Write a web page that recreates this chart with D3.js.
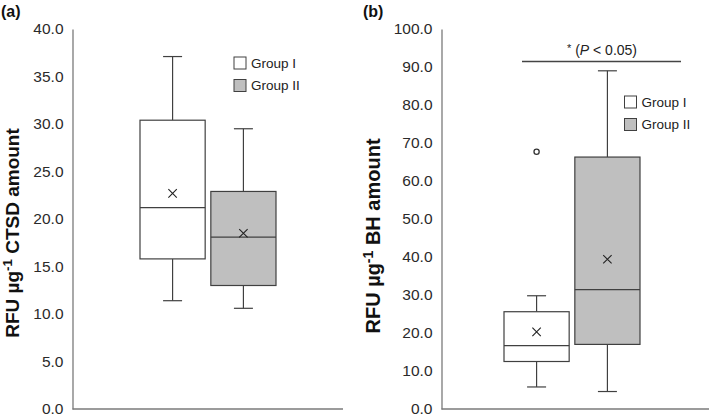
<!DOCTYPE html>
<html><head><meta charset="utf-8">
<script src="https://cdn.jsdelivr.net/npm/d3@7"></script>
<style>body{margin:0;background:#fff}svg{display:block;font-family:"Liberation Sans",Arial,sans-serif}</style>
</head><body><svg id="c" width="709" height="418"></svg>
<script>
const groups = ["Group I", "Group II"];
// panel (a) CTSD: [lowerWhisker, Q1, median, Q3, upperWhisker], mean
const ctsdStats = [[11.4, 15.8, 21.2, 30.4, 37.1], [10.6, 13.0, 18.1, 22.9, 29.5]];
const ctsdMeans = [22.7, 18.5];
const ctsdOutliers = [[], []];
const ctsdTicks = [0, 5, 10, 15, 20, 25, 30, 35, 40];
// panel (b) BH
const bhStats = [[5.8, 12.5, 16.7, 25.6, 29.8], [4.6, 17.0, 31.4, 66.3, 89.0]];
const bhMeans = [20.3, 39.4];
const bhOutliers = [[67.7], []];
const bhTicks = [0, 10, 20, 30, 40, 50, 60, 70, 80, 90, 100];
const fills = ["#ffffff", "#bfbfbf"];

const svg = d3.select("#c");
const axisCol = "#7a7a7a", boxCol = "#404040";

function panel(o) {
  const g = svg.append("g");
  const y = d3.scaleLinear().domain([0, o.max]).range([409, 29]);
  const x = d3.scaleBand().domain(groups).range(o.boxRange).paddingInner(0.08);
  const ya = d3.axisLeft(y).tickValues(o.ticks).tickSize(0).tickPadding(9).tickFormat(d3.format(".1f"));
  const yg = g.append("g").attr("transform", `translate(${o.x0},0)`).call(ya);
  yg.select(".domain").attr("stroke", axisCol).attr("stroke-width", 1.3);
  yg.selectAll("text").attr("font-size", 15.5).attr("fill", "#2a2a2a").attr("font-family", '"Liberation Sans",Arial,sans-serif');
  g.append("line").attr("x1", o.x0).attr("x2", o.x1).attr("y1", y(0)).attr("y2", y(0)).attr("stroke", axisCol).attr("stroke-width", 1.3);
  groups.forEach((gr, i) => {
    const s = o.stats[i];
    const bx = x(gr), bw = x.bandwidth(), cx = bx + bw / 2;
    const capW = 19;
    g.append("line").attr("x1", cx).attr("x2", cx).attr("y1", y(s[3])).attr("y2", y(s[4])).attr("stroke", boxCol).attr("stroke-width", 1.2);
    g.append("line").attr("x1", cx).attr("x2", cx).attr("y1", y(s[1])).attr("y2", y(s[0])).attr("stroke", boxCol).attr("stroke-width", 1.2);
    g.append("line").attr("x1", cx - capW / 2).attr("x2", cx + capW / 2).attr("y1", y(s[4])).attr("y2", y(s[4])).attr("stroke", boxCol).attr("stroke-width", 1.2);
    g.append("line").attr("x1", cx - capW / 2).attr("x2", cx + capW / 2).attr("y1", y(s[0])).attr("y2", y(s[0])).attr("stroke", boxCol).attr("stroke-width", 1.2);
    g.append("rect").attr("x", bx).attr("width", bw).attr("y", y(s[3])).attr("height", y(s[1]) - y(s[3]))
      .attr("fill", fills[i]).attr("stroke", boxCol).attr("stroke-width", 1.2);
    g.append("line").attr("x1", bx).attr("x2", bx + bw).attr("y1", y(s[2])).attr("y2", y(s[2])).attr("stroke", boxCol).attr("stroke-width", 1.2);
    const my = y(o.means[i]), m = 4.2;
    g.append("path").attr("d", `M${cx - m},${my - m}L${cx + m},${my + m}M${cx - m},${my + m}L${cx + m},${my - m}`)
      .attr("stroke", "#222").attr("stroke-width", 1.1).attr("fill", "none");
    o.outliers[i].forEach(v => {
      g.append("circle").attr("cx", cx).attr("cy", y(v)).attr("r", 2.6).attr("fill", "#fff").attr("stroke", "#333").attr("stroke-width", 1.3);
    });
  });
  groups.forEach((gr, i) => {
    const ly = o.legY + i * 22.5;
    g.append("rect").attr("x", o.legX).attr("y", ly).attr("width", 12).attr("height", 12)
      .attr("fill", fills[i]).attr("stroke", boxCol).attr("stroke-width", 1);
    g.append("text").attr("x", o.legX + 17).attr("y", ly + 6).attr("dy", "0.35em").attr("font-size", 13.5).attr("fill", "#222").text(gr);
  });
  g.append("text").attr("x", o.labX).attr("y", 17).attr("font-size", 16).attr("font-weight", "bold").attr("fill", "#111").text(o.label);
  const t = g.append("text").attr("transform", `translate(${o.titleX},${o.titleY}) rotate(-90)`)
    .attr("text-anchor", "middle").attr("font-size", o.titleSize).attr("font-weight", "bold").attr("fill", "#111");
  t.append("tspan").text("RFU µg");
  t.append("tspan").attr("font-size", o.titleSize * 0.7).attr("dy", -7).text("-1");
  t.append("tspan").attr("dy", 7).text(" " + o.title);
  return {g, y};
}

panel({max: 40, ticks: ctsdTicks, stats: ctsdStats, means: ctsdMeans, outliers: ctsdOutliers,
  x0: 72.5, x1: 343, boxRange: [140, 276], legX: 234, legY: 57, label: "(a)", labX: 1,
  titleX: 19, titleY: 233, title: "CTSD amount", titleSize: 19});
const pb = panel({max: 100, ticks: bhTicks, stats: bhStats, means: bhMeans, outliers: bhOutliers,
  x0: 441.5, x1: 709, boxRange: [504, 640], legX: 624.5, legY: 96, label: "(b)", labX: 363,
  titleX: 380, titleY: 236, title: "BH amount", titleSize: 20});
pb.g.append("line").attr("x1", 522).attr("x2", 681).attr("y1", 61.5).attr("y2", 61.5).attr("stroke", "#444").attr("stroke-width", 1.3);
const st = pb.g.append("text").attr("x", 602).attr("y", 55).attr("text-anchor", "middle").attr("font-size", 14).attr("fill", "#222");
st.append("tspan").attr("font-size", 11).attr("dy", -3).text("*");
st.append("tspan").attr("dy", 3).text(" (");
st.append("tspan").attr("font-style", "italic").text("P");
st.append("tspan").text(" < 0.05)");
</script></body></html>
